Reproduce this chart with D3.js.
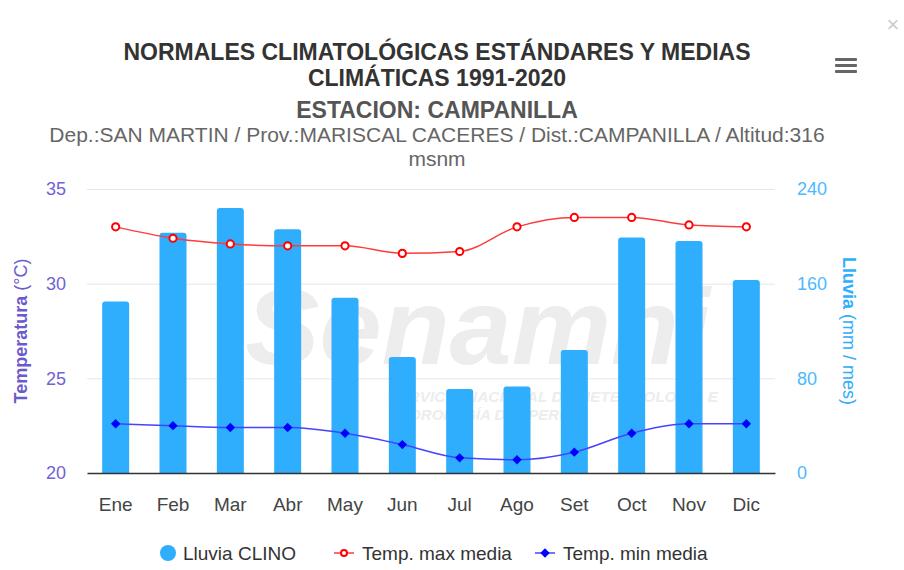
<!DOCTYPE html>
<html lang="es">
<head>
<meta charset="UTF-8">
<title>Normales climatológicas - Campanilla</title>
<script src="https://d3js.org/d3.v7.min.js"></script>
<style>
  body { margin: 0; background: #fff; }
  text { font-family: "Liberation Sans", Arial, sans-serif; }
</style>
</head>
<body>
<script>
// data
const months = ['Ene', 'Feb', 'Mar', 'Abr', 'May', 'Jun', 'Jul', 'Ago', 'Set', 'Oct', 'Nov', 'Dic'];
const lluvia = [145, 203, 224, 206, 148, 98, 71, 73, 104, 199, 196, 163];
const tempMax = [33.0, 32.4, 32.1, 32.0, 32.0, 31.6, 31.7, 33.0, 33.5, 33.5, 33.1, 33.0];
const tempMin = [22.6, 22.5, 22.4, 22.4, 22.1, 21.5, 20.8, 20.7, 21.1, 22.1, 22.6, 22.6];
const tempTicks = [20, 25, 30, 35];
const rainTicks = [0, 80, 160, 240];

const width = 904, height = 570;
const plot = { left: 87, right: 775, top: 189, bottom: 473 };
const font = '"Liberation Sans", Arial, sans-serif';

const svg = d3.select('body').append('svg')
  .attr('width', width)
  .attr('height', height);

svg.append('rect').attr('width', width).attr('height', height).attr('fill', '#fff');

// scales
const x = d3.scaleBand().domain(months).range([plot.left, plot.right]);
const yT = d3.scaleLinear().domain([20, 35]).range([plot.bottom, plot.top]);
const yR = d3.scaleLinear().domain([0, 240]).range([plot.bottom, plot.top]);

// titles
const titles = svg.append('g').attr('text-anchor', 'middle');
titles.append('text').attr('x', 437).attr('y', 60)
  .attr('font-size', 23).attr('font-weight', 'bold').attr('fill', '#333')
  .text('NORMALES CLIMATOLÓGICAS ESTÁNDARES Y MEDIAS');
titles.append('text').attr('x', 437).attr('y', 86)
  .attr('font-size', 23).attr('font-weight', 'bold').attr('fill', '#333')
  .text('CLIMÁTICAS 1991-2020');
titles.append('text').attr('x', 437).attr('y', 118)
  .attr('font-size', 23).attr('font-weight', 'bold').attr('fill', '#555')
  .text('ESTACION: CAMPANILLA');
titles.append('text').attr('x', 437).attr('y', 142)
  .attr('font-size', 21).attr('fill', '#666')
  .text('Dep.:SAN MARTIN / Prov.:MARISCAL CACERES / Dist.:CAMPANILLA / Altitud:316');
titles.append('text').attr('x', 437).attr('y', 166)
  .attr('font-size', 21).attr('fill', '#666')
  .text('msnm');

// menu + close
const menu = svg.append('g').attr('fill', '#666');
[58, 64, 70].forEach(yy => menu.append('rect')
  .attr('x', 835).attr('y', yy).attr('width', 22).attr('height', 3).attr('rx', 1));
svg.append('text').attr('x', 893).attr('y', 32).attr('text-anchor', 'middle')
  .attr('font-size', 22).attr('fill', '#ccc').text('×');

// watermark (faint logo text behind the plot)
const wm = svg.append('g').attr('fill', '#ededed').attr('font-style', 'italic').attr('font-weight', 'bold');
wm.append('text').attr('x', 245).attr('y', 364).attr('font-size', 108)
  .attr('textLength', 465).attr('lengthAdjust', 'spacingAndGlyphs').text('Senamhi');
wm.append('text').attr('x', 388).attr('y', 402).attr('font-size', 15)
  .attr('textLength', 330).attr('lengthAdjust', 'spacingAndGlyphs').text('SERVICIO NACIONAL DE METEOROLOGÍA E');
wm.append('text').attr('x', 395).attr('y', 420).attr('font-size', 15).text('HIDROLOGÍA DEL PERÚ');

// grid
svg.append('g')
  .selectAll('line').data(tempTicks.slice(1)).join('line')
  .attr('x1', plot.left).attr('x2', plot.right)
  .attr('y1', d => yT(d) + 0.5).attr('y2', d => yT(d) + 0.5)
  .attr('stroke', '#e6e6e6');

// left axis
const axL = svg.append('g').attr('transform', `translate(${plot.left},0)`)
  .call(d3.axisLeft(yT).tickValues(tempTicks).tickSize(0).tickPadding(21));
axL.select('.domain').remove();
axL.selectAll('text').attr('font-size', 18).attr('fill', '#6f63d6').style('font-family', font);

// right axis
const axR = svg.append('g').attr('transform', `translate(${plot.right},0)`)
  .call(d3.axisRight(yR).tickValues(rainTicks).tickSize(0).tickPadding(22));
axR.select('.domain').remove();
axR.selectAll('text').attr('font-size', 18).attr('fill', '#4db8ff').style('font-family', font);

// axis titles
const tL = svg.append('text')
  .attr('transform', `translate(27,${(plot.top + plot.bottom) / 2}) rotate(-90)`)
  .attr('text-anchor', 'middle').attr('font-size', 18).attr('fill', '#6a5acd');
tL.append('tspan').attr('font-weight', 'bold').text('Temperatura ');
tL.append('tspan').text('(°C)');

const tR = svg.append('text')
  .attr('transform', `translate(843,${(plot.top + plot.bottom) / 2}) rotate(90)`)
  .attr('text-anchor', 'middle').attr('font-size', 18).attr('fill', '#2eaefc');
tR.append('tspan').attr('font-weight', 'bold').text('Lluvia ');
tR.append('tspan').text('(mm / mes)');

// bars with rounded tops
const bw = 27, r = 3;
svg.append('g').selectAll('path').data(lluvia).join('path')
  .attr('fill', '#2eaefc')
  .attr('d', (d, i) => {
    const x0 = x(months[i]) + x.bandwidth() / 2 - bw / 2, x1 = x0 + bw;
    const y0 = yR(d), yb = plot.bottom;
    return `M${x0},${yb}V${y0 + r}Q${x0},${y0} ${x0 + r},${y0}H${x1 - r}Q${x1},${y0} ${x1},${y0 + r}V${yb}Z`;
  });

// x axis
const axB = svg.append('g').attr('transform', `translate(0,${plot.bottom})`)
  .call(d3.axisBottom(x).tickSize(0).tickPadding(25));
axB.select('.domain').attr('stroke', '#333').attr('stroke-width', 1.5);
axB.selectAll('text').attr('font-size', 19).attr('fill', '#444').style('font-family', font);

// lines
const cx = (d, i) => x(months[i]) + x.bandwidth() / 2;
const lineMax = d3.line().x(cx).y(d => yT(d)).curve(d3.curveMonotoneX);
const lineMin = d3.line().x(cx).y(d => yT(d)).curve(d3.curveMonotoneX);

svg.append('path').datum(tempMax).attr('d', lineMax)
  .attr('fill', 'none').attr('stroke', '#ff3b3b').attr('stroke-width', 1.5);
svg.append('path').datum(tempMin).attr('d', lineMin)
  .attr('fill', 'none').attr('stroke', '#4444ff').attr('stroke-width', 1.5);

svg.append('g').selectAll('circle').data(tempMax).join('circle')
  .attr('cx', cx).attr('cy', d => yT(d)).attr('r', 3.6)
  .attr('fill', '#fff').attr('stroke', '#ff0000').attr('stroke-width', 2);

const diamond = d3.symbol().type(d3.symbolDiamond2).size(56);
svg.append('g').selectAll('path').data(tempMin).join('path')
  .attr('transform', (d, i) => `translate(${cx(d, i)},${yT(d)})`)
  .attr('d', diamond).attr('fill', '#0000ff');

// legend
const lg = svg.append('g').attr('font-size', 19).attr('fill', '#333');
lg.append('circle').attr('cx', 168).attr('cy', 553).attr('r', 8).attr('fill', '#2eaefc');
lg.append('text').attr('x', 183).attr('y', 560).text('Lluvia CLINO');
lg.append('line').attr('x1', 334).attr('x2', 354).attr('y1', 553).attr('y2', 553)
  .attr('stroke', '#ff3b3b').attr('stroke-width', 1.5);
lg.append('circle').attr('cx', 344).attr('cy', 553).attr('r', 3).attr('fill', '#fff')
  .attr('stroke', '#ff0000').attr('stroke-width', 2);
lg.append('text').attr('x', 362).attr('y', 560).text('Temp. max media');
lg.append('line').attr('x1', 535).attr('x2', 555).attr('y1', 553).attr('y2', 553)
  .attr('stroke', '#4444ff').attr('stroke-width', 1.5);
lg.append('path').attr('transform', 'translate(545,553)').attr('d', diamond).attr('fill', '#0000ff');
lg.append('text').attr('x', 563).attr('y', 560).text('Temp. min media');
</script>
</body>
</html>
